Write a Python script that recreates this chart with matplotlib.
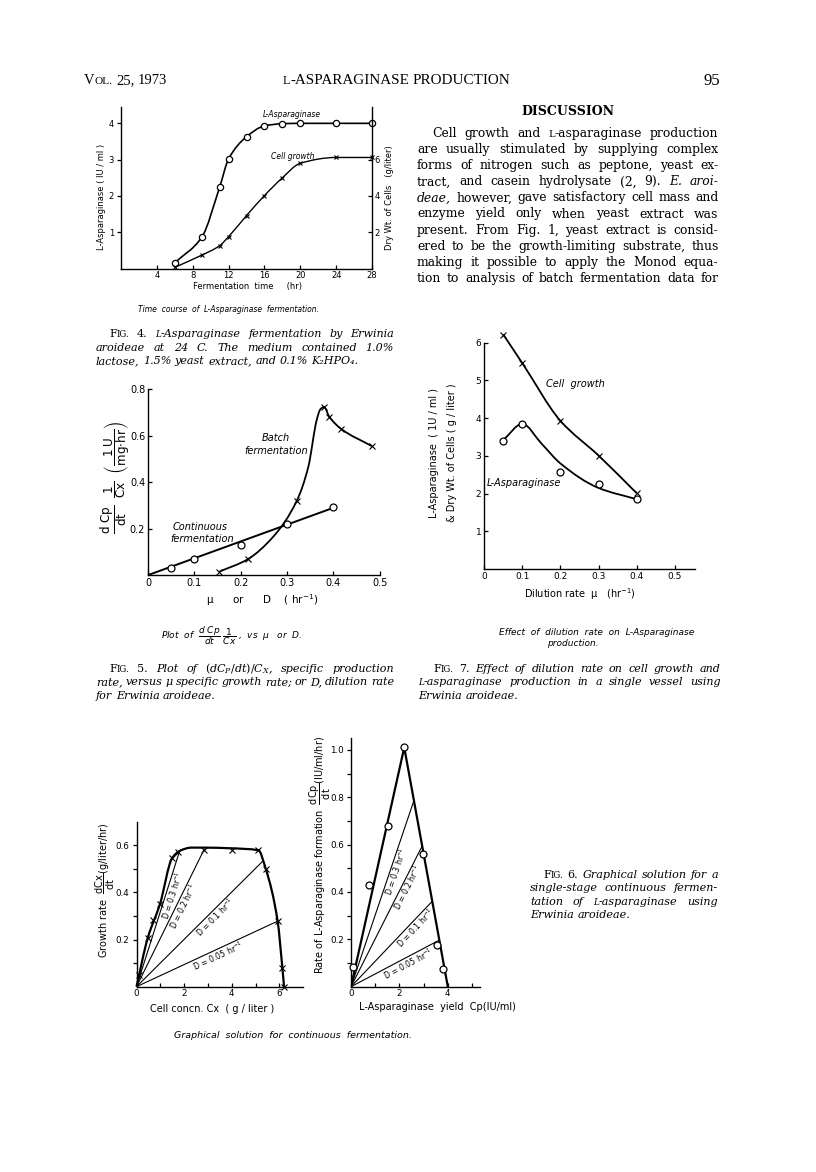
import numpy as np
import matplotlib
matplotlib.use("Agg")
import matplotlib.pyplot as plt
from matplotlib.path import Path
from matplotlib.patches import PathPatch

W, H = 816, 1172
plt.rcParams["font.family"] = ["DejaVu Sans"]
plt.rcParams["mathtext.fontset"] = "dejavusans"
plt.rcParams["mathtext.default"] = "regular"
plt.rcParams["axes.linewidth"] = 1.0

# ---------------- Fig. 4 : time course of fermentation
time_hr = [6, 9, 11, 12, 14, 16, 18, 20, 24, 28]
asp_iu = [0.16, 0.86, 2.24, 3.02, 3.63, 3.93, 3.99, 4.0, 4.0, 4.0]
cells_gl = [0.07, 0.74, 1.26, 1.76, 2.92, 4.02, 5.0, 5.8, 6.12, 6.12]

# ---------------- Fig. 5 : specific production rate
cont_d = [0.05, 0.1, 0.2, 0.3, 0.4]
cont_rate = [0.029, 0.069, 0.128, 0.222, 0.293]
cont_fit_d = [0.0, 0.4]
cont_fit_rate = [0.0, 0.29]
batch_mu = [0.154, 0.215, 0.321, 0.38, 0.391, 0.417, 0.483]
batch_rate = [0.015, 0.068, 0.32, 0.725, 0.683, 0.63, 0.556]
batch_curve_mu = [0.154, 0.215, 0.27, 0.321, 0.346, 0.364, 0.372, 0.38, 0.391, 0.417, 0.483]
batch_curve_rate = [0.015, 0.068, 0.165, 0.32, 0.467, 0.668, 0.715, 0.725, 0.683, 0.63, 0.556]

# ---------------- Fig. 7 : effect of dilution rate
dil_rate = [0.05, 0.1, 0.2, 0.3, 0.4]
cell_dry_wt = [6.22, 5.46, 3.93, 3.01, 2.01]
asp_yield = [3.40, 3.85, 2.58, 2.25, 1.85]
asp_curve_d = [0.05, 0.1, 0.15, 0.2, 0.3, 0.4]
asp_curve = [3.42, 3.85, 3.33, 2.8, 2.15, 1.85]

# ---------------- Fig. 6 : graphical solution
cx_obs = [0.12, 0.47, 0.71, 0.99, 1.5, 1.76, 2.84, 4.0, 5.12, 5.43, 5.93, 6.13, 6.2]
growth_obs = [0.05, 0.206, 0.284, 0.352, 0.546, 0.572, 0.582, 0.582, 0.579, 0.50, 0.278, 0.078, 0.0]
growth_curve_cx = [0, 0.47, 0.99, 1.5, 1.85, 2.3, 2.84, 4.0, 5.12, 5.43, 5.93, 6.13, 6.2]
growth_curve = [0, 0.206, 0.352, 0.546, 0.578, 0.59, 0.59, 0.587, 0.579, 0.50, 0.278, 0.078, 0.0]
cp_obs = [0.1, 0.76, 1.52, 2.2, 2.99, 3.54, 3.81]
prod_obs = [0.085, 0.43, 0.68, 1.01, 0.56, 0.176, 0.073]
boundary_cp = [0, 2.2, 4.0]
boundary_prod = [0, 1.01, 0]
d_values = ["0.3", "0.2", "0.1", "0.05"]
left_end_cx = [1.8, 2.84, 5.3, 5.93]
left_end_rate = [0.572, 0.582, 0.532, 0.278]
left_label_at = [1.25, 1.72, 3.11, 3.33]
right_end_cp = [2.58, 2.92, 3.35, 3.62]
right_end_prod = [0.78, 0.59, 0.36, 0.195]
right_label_at = [1.64, 2.13, 2.5, 2.23]

fig = plt.figure(figsize=(W / 100, H / 100), dpi=100)
renderer = fig.canvas.get_renderer()


def fx(x):
    return x / W


def fy(y):
    return 1 - y / H


def box(left, top, right, bottom):
    return fig.add_axes([fx(left), fy(bottom), (right - left) / W, (bottom - top) / H])


def smooth(ax, xs, ys, lw=1.4, **kw):
    # monotone cubic (Fritsch-Carlson) drawn as bezier segments
    x = np.asarray(xs, float)
    y = np.asarray(ys, float)
    h = np.diff(x)
    d = np.diff(y) / h
    m = np.zeros(len(x))
    m[0], m[-1] = d[0], d[-1]
    for i in range(1, len(x) - 1):
        if d[i - 1] * d[i] <= 0:
            m[i] = 0
        else:
            w1 = 2 * h[i] + h[i - 1]
            w2 = h[i] + 2 * h[i - 1]
            m[i] = (w1 + w2) / (w1 / d[i - 1] + w2 / d[i])
    verts = [(x[0], y[0])]
    codes = [Path.MOVETO]
    for i in range(len(h)):
        verts += [(x[i] + h[i] / 3, y[i] + m[i] * h[i] / 3),
                  (x[i + 1] - h[i] / 3, y[i + 1] - m[i + 1] * h[i] / 3),
                  (x[i + 1], y[i + 1])]
        codes += [Path.CURVE4] * 3
    ax.add_patch(PathPatch(Path(verts, codes), fill=False, lw=lw,
                           transform=ax.transData, clip_on=False, **kw))


def style_axes(ax, size):
    for s in ["top", "right"]:
        ax.spines[s].set_visible(False)
    ax.tick_params(labelsize=size, length=3, width=0.9, pad=2)


def circles(ax, x, y, ms=5):
    ax.plot(x, y, "o", ms=ms, mfc="white", mec="black", mew=0.9, zorder=5, clip_on=False)


def crosses(ax, x, y, ms=3.8):
    ax.plot(x, y, "x", ms=ms, mec="black", mew=0.8, zorder=5, clip_on=False)


# ======================= Fig. 4
ax4 = box(121, 107, 372, 268.6)
style_axes(ax4, 6)
ax4.set_xlim(0, 28)
ax4.set_ylim(0, 4.45)
ax4.set_xticks([4, 8, 12, 16, 20, 24, 28])
ax4.set_yticks([1, 2, 3, 4])
ax4.tick_params(axis="x", direction="in")
ax4.tick_params(axis="y", direction="out")
ax4r = ax4.twinx()
for s in ["top", "left", "bottom"]:
    ax4r.spines[s].set_visible(False)
ax4r.set_ylim(0, 8.9)
ax4r.set_yticks([2, 4, 6])
ax4r.tick_params(labelsize=6, length=3, width=0.9, direction="in", pad=2)
smooth(ax4, time_hr, asp_iu, lw=1.2)
circles(ax4, time_hr, asp_iu, ms=4.5)
smooth(ax4r, time_hr, cells_gl, lw=1.0)
crosses(ax4r, time_hr, cells_gl, ms=3)
ax4.text(19.1, 4.25, "L-Asparaginase", fontsize=5.5, style="italic", ha="center", va="center")
ax4.text(19.2, 3.1, "Cell growth", fontsize=5.5, style="italic", ha="center", va="center")
fig.text(fx(102), fy(197), "L-Asparaginase ( IU / ml )", rotation=90, fontsize=6, ha="center", va="center")
fig.text(fx(390), fy(198), "Dry Wt. of Cells   (g/liter)", rotation=90, fontsize=6, ha="center", va="center")
fig.text(fx(248), fy(287), "Fermentation  time     (hr)", fontsize=6, ha="center", va="center")
fig.text(fx(229), fy(309), "Time  course  of  L-Asparaginase  fermentation.", fontsize=5.5,
         style="italic", ha="center", va="center")

# ======================= Fig. 5
ax5 = box(148, 389.5, 379.7, 575.1)
style_axes(ax5, 7)
ax5.set_xlim(0, 0.5)
ax5.set_ylim(0, 0.8)
ax5.set_xticks([0, 0.1, 0.2, 0.3, 0.4, 0.5])
ax5.set_xticklabels(["0", "0.1", "0.2", "0.3", "0.4", "0.5"])
ax5.set_yticks([0.2, 0.4, 0.6, 0.8])
ax5.tick_params(direction="in")
ax5.plot(cont_fit_d, cont_fit_rate, color="black", lw=1.4)
circles(ax5, cont_d, cont_rate)
smooth(ax5, batch_curve_mu, batch_curve_rate, lw=1.3)
crosses(ax5, batch_mu, batch_rate)
ax5.text(0.276, 0.59, "Batch", fontsize=7, style="italic", ha="center", va="center")
ax5.text(0.276, 0.536, "fermentation", fontsize=7, style="italic", ha="center", va="center")
ax5.text(0.112, 0.206, "Continuous", fontsize=7, style="italic", ha="center", va="center")
ax5.text(0.116, 0.154, "fermentation", fontsize=7, style="italic", ha="center", va="center")
fig.text(fx(115), fy(477), r"$\dfrac{d\ Cp}{dt}\ \ \dfrac{1}{Cx}\ \ \left(\dfrac{1\,U}{mg{\cdot}hr}\right)$",
         rotation=90, fontsize=8.6, ha="center", va="center")
fig.text(fx(262), fy(600), r"$\mu$      or      D    ( hr$^{-1}$)", fontsize=7.5, ha="center", va="center")
fig.text(fx(232), fy(636), r"Plot  of  $\dfrac{\mathit{d\ Cp}}{\mathit{dt}}\ \dfrac{\mathit{1}}{\mathit{Cx}}$ ,  vs  $\mathit{\mu}$   or  D.",
         fontsize=6.5, style="italic", ha="center", va="center")

# ======================= Fig. 7
ax7 = box(484.2, 342.8, 695, 569)
style_axes(ax7, 6.5)
ax7.set_xlim(0, 0.553)
ax7.set_ylim(0, 6)
ax7.set_xticks([0, 0.1, 0.2, 0.3, 0.4, 0.5])
ax7.set_xticklabels(["0", "0.1", "0.2", "0.3", "0.4", "0.5"])
ax7.set_yticks([1, 2, 3, 4, 5, 6])
ax7.tick_params(direction="in")
smooth(ax7, dil_rate, cell_dry_wt, lw=1.3)
crosses(ax7, dil_rate, cell_dry_wt)
smooth(ax7, asp_curve_d, asp_curve, lw=1.3)
circles(ax7, dil_rate, asp_yield)
ax7.text(0.238, 4.9, "Cell  growth", fontsize=7, style="italic", ha="center", va="center")
ax7.text(0.103, 2.29, "L-Asparaginase", fontsize=7, style="italic", ha="center", va="center")
fig.text(fx(434), fy(453), "L-Asparaginase  ( 1U / ml )", rotation=90, fontsize=7, ha="center", va="center")
fig.text(fx(452), fy(453), "& Dry Wt. of Cells ( g / liter )", rotation=90, fontsize=7, ha="center", va="center")
fig.text(fx(580), fy(594), r"Dilution rate  $\mu$   (hr$^{-1}$)", fontsize=7, ha="center", va="center")
fig.text(fx(596.7), fy(632.5), "Effect  of  dilution  rate  on  L-Asparaginase", fontsize=6.5,
         style="italic", ha="center", va="center")
fig.text(fx(572.5), fy(643.5), "production.", fontsize=6.5, style="italic", ha="center", va="center")

# ======================= Fig. 6 (left)
ax6a = box(136.5, 821.7, 303.1, 986.7)
style_axes(ax6a, 6.3)
ax6a.set_xlim(0, 7)
ax6a.set_ylim(0, 0.7)
ax6a.set_xticks([0, 1, 2, 3, 4, 5, 6])
ax6a.set_xticklabels(["0", "", "2", "", "4", "", "6"])
ax6a.set_yticks([0.1, 0.2, 0.3, 0.4, 0.5, 0.6])
ax6a.set_yticklabels(["", "0.2", "", "0.4", "", "0.6"])
ax6a.tick_params(axis="x", direction="in")
smooth(ax6a, growth_curve_cx, growth_curve, lw=1.6)
crosses(ax6a, cx_obs, growth_obs)
for d, ex, ey, lx in zip(d_values, left_end_cx, left_end_rate, left_label_at):
    ax6a.plot([0, ex], [0, ey], color="black", lw=0.8)
    slope = ey / ex
    ax6a.text(lx, slope * lx, "D = " + d + " hr$^{-1}$", fontsize=5.6, rotation=np.degrees(np.arctan(slope)),
              transform_rotates_text=True, rotation_mode="anchor", ha="center", va="top")
fig.text(fx(105), fy(890), r"Growth rate  $\dfrac{dCx}{dt}$(g/liter/hr)", rotation=90, fontsize=7,
         ha="center", va="center")
fig.text(fx(212), fy(1009), "Cell concn. Cx  ( g / liter )", fontsize=7, ha="center", va="center")

# ======================= Fig. 6 (right)
ax6b = box(351, 738, 480, 986.7)
style_axes(ax6b, 6.3)
ax6b.set_xlim(0, 5.33)
ax6b.set_ylim(0, 1.05)
ax6b.set_xticks([0, 1, 2, 3, 4, 5])
ax6b.set_xticklabels(["0", "", "2", "", "4", ""])
ax6b.set_yticks([0.1, 0.2, 0.3, 0.4, 0.5, 0.6, 0.7, 0.8, 0.9, 1.0])
ax6b.set_yticklabels(["", "0.2", "", "0.4", "", "0.6", "", "0.8", "", "1.0"])
ax6b.tick_params(axis="x", direction="in")
ax6b.plot(boundary_cp, boundary_prod, color="black", lw=1.6)
circles(ax6b, cp_obs, prod_obs)
for d, ex, ey, lx in zip(d_values, right_end_cp, right_end_prod, right_label_at):
    ax6b.plot([0, ex], [0, ey], color="black", lw=0.8)
    slope = ey / ex
    ax6b.text(lx, slope * lx, "D = " + d + " hr$^{-1}$", fontsize=5.6, rotation=np.degrees(np.arctan(slope)),
              transform_rotates_text=True, rotation_mode="anchor", ha="center", va="top")
fig.text(fx(320), fy(855), r"Rate of L-Asparaginase formation  $\dfrac{dCp}{dt}$(IU/ml/hr)", rotation=90,
         fontsize=7, ha="center", va="center")
fig.text(fx(437), fy(1007.5), "L-Asparaginase  yield  Cp(IU/ml)", fontsize=7, ha="center", va="center")
fig.text(fx(293), fy(1036), "Graphical  solution  for  continuous  fermentation.", fontsize=6.8,
         style="italic", ha="center", va="center")


# ======================= page text (serif, justified)
def piece_width(s, size, family, style):
    t = fig.text(0, 0, s, fontsize=size, family=family, style=style,
                 math_fontfamily="dejavuserif")
    w = t.get_window_extent(renderer).width
    t.remove()
    return w


def token_pieces(tok, italic):
    flip = tok.startswith("_")
    if flip:
        tok = tok[1:]
    style = "italic" if italic != flip else "normal"
    if tok.startswith("^"):
        tok = tok[1:]
        return [(tok[0], 1.0, style), (tok[1:].upper(), 0.78, style)]
    if tok.startswith("~"):
        tok = tok[1:]
        return [(tok[0], 0.8, style), (tok[1:], 1.0, style)]
    return [(tok, 1.0, style)]


def text_block(x0, x1, indent, y0, dy, lines, size, family, italic=False, justify_last=False,
               justify=True):
    def measure(line, sz):
        toks = [token_pieces(t, italic) for t in line.split()]
        ws = [[piece_width(s, sz * k, family, st) for s, k, st in p] for p in toks]
        return toks, ws
    sp = piece_width("a a", size, family, "normal") - piece_width("aa", size, family, "normal")
    worst = 1.0
    for i, line in enumerate(lines):
        toks, ws = measure(line, size)
        need = sum(sum(w) for w in ws) + 0.4 * sp * (len(toks) - 1)
        avail = x1 - x0 - (indent if i == 0 else 0)
        worst = min(worst, avail / need)
    size = size * worst
    sp = sp * worst
    for i, line in enumerate(lines):
        toks, ws = measure(line, size)
        start = x0 + (indent if i == 0 else 0)
        words = [sum(w) for w in ws]
        gap = sp
        if justify and (i < len(lines) - 1 or justify_last) and len(toks) > 1:
            gap = (x1 - start - sum(words)) / (len(toks) - 1)
        x = start
        y = y0 + i * dy
        for p, w in zip(toks, ws):
            for (s, k, st), wi in zip(p, w):
                fig.text(fx(x), fy(y), s, fontsize=size * k, family=family, style=st,
                         va="baseline", ha="left", math_fontfamily="dejavuserif")
                x += wi
            x += gap


times = "Liberation Serif"
serif = "DejaVu Serif"
text_block(84, 400, 0, 84, 0, ["^Vol. 25, 1973"], 10.5, times, justify=False)
text_block(283, 600, 0, 84, 0, ["~L-ASPARAGINASE PRODUCTION"], 10.9, times, justify=False)
fig.text(fx(703), fy(85), "95", fontsize=12, family=times, va="baseline", ha="left")

fig.text(fx(567.5), fy(115), "DISCUSSION", fontsize=9, family=serif, weight="bold",
         ha="center", va="baseline")
discussion = [
    "Cell growth and ~L-asparaginase production",
    "are usually stimulated by supplying complex",
    "forms of nitrogen such as peptone, yeast ex-",
    "tract, and casein hydrolysate (2, 9). _E. _aroi-",
    "_deae, however, gave satisfactory cell mass and",
    "enzyme yield only when yeast extract was",
    "present. From Fig. 1, yeast extract is consid-",
    "ered to be the growth-limiting substrate, thus",
    "making it possible to apply the Monod equa-",
    "tion to analysis of batch fermentation data for",
]
text_block(417, 718.5, 15, 137, 16.1, discussion, 8.9, serif, justify_last=True)

cap4 = [
    "_^Fig. _4. ~L-Asparaginase fermentation by Erwinia",
    "aroideae at 24 C. The medium contained 1.0%",
    "lactose, 1.5% yeast extract, and 0.1% K\u2082HPO\u2084.",
]
text_block(96, 394, 13, 337.5, 13.4, cap4, 8.0, serif, italic=True)
cap5 = [
    "_^Fig. _5. Plot of $\\mathit{(dC_P/dt)/C_X}$, specific production",
    "rate, versus \u03bc specific growth rate; or D, dilution rate",
    "for Erwinia aroideae.",
]
text_block(96, 394, 13, 672, 13.4, cap5, 8.0, serif, italic=True)
cap7 = [
    "_^Fig. _7. Effect of dilution rate on cell growth and",
    "~L-asparaginase production in a single vessel using",
    "Erwinia aroideae.",
]
text_block(418, 721, 15, 672, 13.4, cap7, 8.0, serif, italic=True)
cap6 = [
    "_^Fig. _6. Graphical solution for a",
    "single-stage continuous fermen-",
    "tation of ~L-asparaginase using",
    "Erwinia aroideae.",
]
text_block(530, 718, 13, 878, 13.3, cap6, 8.0, serif, italic=True)

fig.savefig("out.png", dpi=100)
